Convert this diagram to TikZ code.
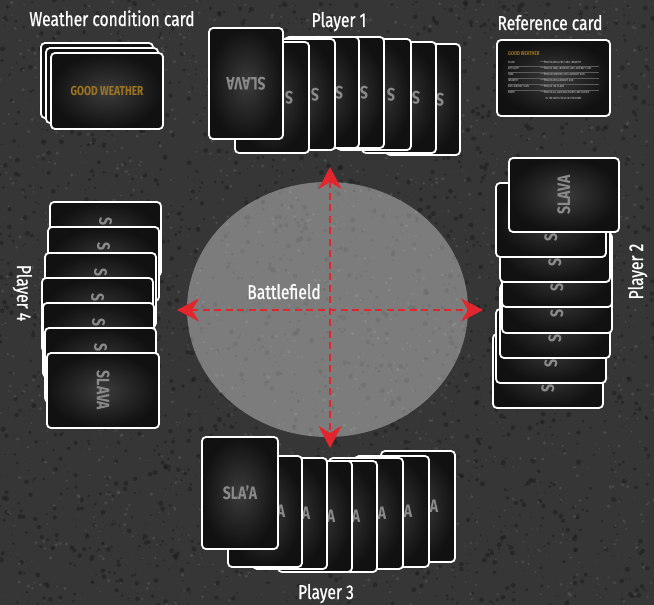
\documentclass[tikz,border=0pt]{standalone}
\usepackage{fontspec}
\setmainfont[FakeStretch=0.78]{Fira Sans}
\newfontfamily\lblfont[FakeStretch=0.78, FakeBold=0.8]{Fira Sans}
\usetikzlibrary{arrows.meta,shapes.geometric}
\definecolor{bg}{HTML}{363636}
\definecolor{speckD}{HTML}{1c1c1c}
\definecolor{speckL}{HTML}{5e5e5e}
\definecolor{cardin}{HTML}{3b3b3b}
\definecolor{cardout}{HTML}{111111}
\definecolor{slavagray}{HTML}{8a8a8a}
\definecolor{gold}{HTML}{9c7422}
\definecolor{arrowred}{HTML}{E3262D}
\definecolor{rulegray}{HTML}{5c5c5c}
\tikzset{
  cardbox/.style={draw=white, line width=1.8pt, rounded corners=4pt, inner color=cardin, outer color=cardout},
  slava/.style={text=slavagray, font=\bfseries\fontsize{18}{18}\selectfont, inner sep=0pt},
  lbl/.style={text=white, font=\lblfont\fontsize{20}{22}\selectfont, inner sep=0pt},
  redarrow/.style={draw=arrowred, line width=2.2pt, dash pattern=on 7pt off 4.5pt,
    {Stealth[length=22pt,width=23pt,inset=7pt]}-{Stealth[length=22pt,width=23pt,inset=7pt]}},
  reftxt/.style={text=white!85!black, font=\fontsize{3}{3.4}\selectfont, inner sep=0pt, anchor=west},
  refrule/.style={draw=rulegray, line width=0.3pt},
}
% front card: full word
\newcommand\gcard[7]{%
  \draw[cardbox] (#2,#3) rectangle (#4,#5);
  \node[slava, rotate=#6] (#1) at ({(#2+#4)/2},{(#3+#5)/2}) {#7};
}
% card in a fan: only the letter that stays visible
\newcommand\bcard[9]{%
  \draw[cardbox] (#2,#3) rectangle (#4,#5);
  \node[slava, rotate=#6] (#1) at ({(#2+#4)/2+#7},{(#3+#5)/2+#8}) {#9};
}
\begin{document}
\begin{tikzpicture}[x=1pt,y=-1pt]
\useasboundingbox (0,0) rectangle (654,605);
\fill[bg] (0,0) rectangle (654,605);
% asphalt texture
\pgfmathsetseed{42}
\foreach \i in {1,...,2600} {\fill[speckD, opacity=.5] ({rnd*654},{rnd*605}) circle ({0.4+rnd*2.2});}
\foreach \i in {1,...,1600} {\fill[speckL, opacity=.45] ({rnd*654},{rnd*605}) circle ({0.3+rnd*1.6});}

% battlefield
\node[ellipse, fill=white, fill opacity=0.35, minimum width=281pt, minimum height=255pt, inner sep=0pt] (field) at (327.5,309.5) {};
\node[lbl, anchor=base] (lblfield) at (284,299) {Battlefield};
\coordinate (tN) at (330,167);
\coordinate (tS) at (330,448);
\coordinate (tW) at (177,310);
\coordinate (tE) at (483,310);
\draw[redarrow] (tN) -- (tS);
\draw[redarrow] (tW) -- (tE);

% weather condition card stack
\draw[cardbox] (41,43) rectangle (153,118);
\draw[cardbox] (46,48) rectangle (158,123);
\draw[cardbox] (51,53) rectangle (163,129);
\node[text=gold, font=\bfseries\fontsize{13}{13}\selectfont, inner sep=0pt] (weathertxt) at (107,91) {GOOD WEATHER};

% reference card
\draw[cardbox] (497,40) rectangle (610,116);
\node[text=gold, font=\bfseries\fontsize{5.6}{6}\selectfont, inner sep=0pt, anchor=west] (refhead) at (508,54) {GOOD WEATHER};
\foreach \yy in {65.7,71.7,77.7,83.7,89.7} {\draw[refrule] (508,\yy) -- (599,\yy);}
\node[reftxt] (r1a) at (508,62.3) {PLANE};
\node[reftxt] (r1b) at (539.5,62.3) {$\rightarrow$};
\node[reftxt] (r1c) at (545.5,62.3) {BEATS ARTILLERY, TANK, INFANTRY};
\node[reftxt] (r2a) at (508,68.8) {ARTILLERY};
\node[reftxt] (r2b) at (539.5,68.8) {$\rightarrow$};
\node[reftxt] (r2c) at (545.5,68.8) {BEATS TANK, INFANTRY, ANTI-AIRCRAFT GUN};
\node[reftxt] (r3a) at (508,74.6) {TANK};
\node[reftxt] (r3b) at (539.5,74.6) {$\rightarrow$};
\node[reftxt] (r3c) at (545.5,74.6) {BEATS INFANTRY, ANTI-AIRCRAFT GUN};
\node[reftxt] (r4a) at (508,80.8) {INFANTRY};
\node[reftxt] (r4b) at (539.5,80.8) {$\rightarrow$};
\node[reftxt] (r4c) at (545.5,80.8) {BEATS ANTI-AIRCRAFT GUN};
\node[reftxt] (r5a) at (508,86.8) {ANTI-AIRCRAFT GUN};
\node[reftxt] (r5b) at (539.5,86.8) {$\rightarrow$};
\node[reftxt] (r5c) at (545.5,86.8) {BEATS THE PLANE};
\node[reftxt] (r6a) at (508,92.8) {BOMB};
\node[reftxt] (r6b) at (539.5,92.8) {$\rightarrow$};
\node[reftxt] (r6c) at (545.5,92.8) {BEATS ALL CARD AND POINTS ARE SCORED};
\node[reftxt] (r6d) at (545.5,98.2) {IN THE BATTLEFIELD IN THE BOMB};

% player 1 (upside down)
\foreach \x/\y [count=\n] in {386/44,362/42,337/39,310/37,285/37,261/39,235/42} {
  \bcard{p1c\n}{\x}{\y}{\x+74}{\y+111}{180}{17}{0}{S}
}
\gcard{p1front}{209}{28}{283}{139}{180}{SLAVA}

% player 3
\foreach \x/\y [count=\n] in {381/451,355/456,329/458,303/461,278/461,253/458,228/456} {
  \bcard{p3c\n}{\x}{\y}{\x+74}{\y+111}{0}{16}{0}{A}
}
\gcard{p3front}{202}{437}{278}{549}{0}{SLA'A}

% player 2
\foreach \x/\y [count=\n] in {493/334,496/309,500/284,502/259,502/233,500/208,496/183} {
  \bcard{p2c\n}{\x}{\y}{\x+110}{\y+74}{90}{0}{17}{S}
}
\gcard{p2front}{509}{158}{619}{232}{90}{SLAVA}

% player 4
\foreach \x/\y [count=\n] in {50/202,48/227,45/253,42/278,43/303,45/328} {
  \bcard{p4c\n}{\x}{\y}{\x+111}{\y+74}{-90}{0}{-17}{S}
}
\gcard{p4front}{47}{353}{159}{428}{-90}{SLAVA}

% labels
\node[lbl, anchor=base] (lblweather) at (112,26) {Weather condition card};
\node[lbl, anchor=base] (lblref) at (550,30) {Reference card};
\node[lbl, anchor=base] (lblp1) at (339,27) {Player 1};
\node[lbl, anchor=base] (lblp3) at (326,599) {Player 3};
\node[lbl, anchor=base, rotate=90] (lblp2) at (643,271.5) {Player 2};
\node[lbl, anchor=base, rotate=-90] (lblp4) at (17,293) {Player 4};
\end{tikzpicture}
\end{document}
